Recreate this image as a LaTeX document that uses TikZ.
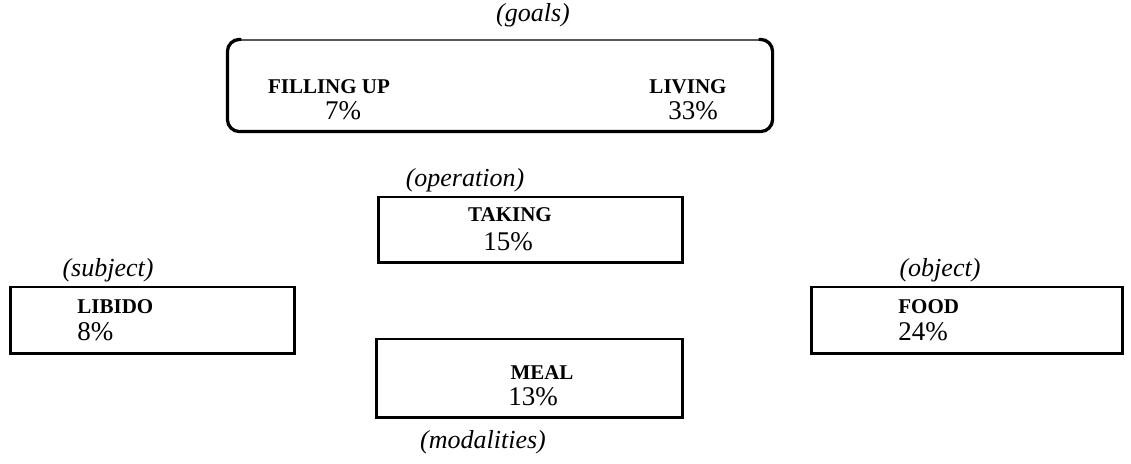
\documentclass[tikz,border=0pt]{standalone}
\usepackage{fontspec}
\setmainfont{Liberation Serif}
\usetikzlibrary{positioning}

\tikzset{
  frame/.style={draw, line width=0.6pt, inner sep=0pt},
  frameside/.style={line width=1.6pt, line join=miter},
  kind/.style={font=\fontsize{13}{15}\selectfont\itshape, inner sep=0pt},
  term/.style={font=\fontsize{10.5}{12}\selectfont\bfseries, inner sep=0pt},
  share/.style={font=\fontsize{13.5}{15}\selectfont, inner sep=0pt}
}

\begin{document}
\begin{tikzpicture}[x=0.5pt, y=-0.5pt]
\useasboundingbox (0,0) rectangle (1131,464);

% goals
\node[kind] (goalsLbl) at (533,15) {(goals)};
\node[frame, rounded corners=6pt, minimum width=272pt, minimum height=45.5pt] (goals) at (500,85.5) {};
\draw[frameside, rounded corners=6pt] ([xshift=7pt]goals.north west) -- (goals.north west) -- (goals.south west)
    -- (goals.south east) -- (goals.north east) -- ([xshift=-7pt]goals.north east);
\node[term] (filling) at (329,87) {FILLING UP};
\node[share] (fillingPct) at (343,111) {7\%};
\node[term] (living) at (688,87) {LIVING};
\node[share] (livingPct) at (693,111) {33\%};

% operation
\node[kind] (operationLbl) at (465,180) {(operation)};
\node[frame, minimum width=151.5pt, minimum height=32.5pt] (taking) at (530.5,229.5) {};
\draw[frameside] (taking.north west) -- (taking.south west) -- (taking.south east) -- (taking.north east);
\node[term] (takingTxt) at (510,215) {TAKING};
\node[share] (takingPct) at (508,242) {15\%};

% subject
\node[kind] (subjectLbl) at (108,270) {(subject)};
\node[frame, minimum width=141.5pt, minimum height=33pt] (libido) at (152.5,320) {};
\draw[frameside] (libido.north west) -- (libido.south west) -- (libido.south east) -- (libido.north east);
\node[term, anchor=west] (libidoTxt) at (77,307) {LIBIDO};
\node[share, anchor=west] (libidoPct) at (77,332) {8\%};

% object
\node[kind] (objectLbl) at (940,270) {(object)};
\node[frame, minimum width=155pt, minimum height=33pt] (food) at (967,320) {};
\draw[frameside] (food.north west) -- (food.south west) -- (food.south east) -- (food.north east);
\node[term, anchor=west] (foodTxt) at (898,307) {FOOD};
\node[share, anchor=west] (foodPct) at (898,332) {24\%};

% modalities
\node[frame, minimum width=152.5pt, minimum height=39pt] (meal) at (529.5,378) {};
\draw[frameside] (meal.north west) -- (meal.south west) -- (meal.south east) -- (meal.north east);
\node[term] (mealTxt) at (542,373) {MEAL};
\node[share] (mealPct) at (533,397) {13\%};
\node[kind] (modalitiesLbl) at (483,442) {(modalities)};

\end{tikzpicture}
\end{document}
